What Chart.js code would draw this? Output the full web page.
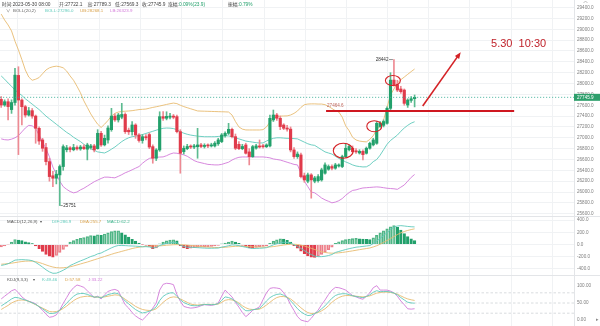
<!DOCTYPE html>
<html lang="zh-CN">
<head>
<meta charset="utf-8">
<title>BTC 1H</title>
<script src="https://cdn.jsdelivr.net/npm/chart.js@4.4.1/dist/chart.umd.min.js"></script>
<style>
  html, body { margin: 0; padding: 0; background: #fff; }
  #board { position: relative; width: 600px; height: 326px; overflow: hidden; }
  #board canvas { position: absolute; left: 0; }
</style>
</head>
<body>
<div id="board">
  <canvas id="mainChart" width="600" height="217" style="top:0"></canvas>
  <canvas id="macdChart" width="600" height="58" style="top:217px"></canvas>
  <canvas id="kdjChart" width="600" height="51" style="top:275px"></canvas>
</div>
<script>
// ===== K线数据 (1H) =====
const opens = [
  27708, 27604, 27665, 27520, 27650, 28150, 27696, 27573, 27420, 27500,
  27400, 27175, 26960, 26820, 26561, 26300, 26255, 26316, 26470, 26780,
  26815, 26780, 26820, 26795, 26830, 26790, 26820, 26850, 26800, 27083,
  26870, 26960, 27150, 27400, 27330, 27380, 27430, 27140, 27113, 27236,
  27052, 26950, 27020, 27060, 26837, 26623, 26776, 27390, 27360, 27380,
  27400, 27390, 27113, 26745, 26800, 26840, 26830, 26835, 26868, 26840,
  26860, 26850, 26850, 26890, 26930, 27040, 27083, 27156, 27021, 26880,
  26800, 26868, 26740, 26653, 26810, 26850, 26850, 26835, 26850, 27330,
  27420, 27360, 27236, 27180, 27160, 26776, 26653, 26684, 26300, 26200,
  26316, 26200, 26210, 26224, 26347, 26420, 26470, 26440, 26480, 26470,
  26653, 26780, 26807, 26760, 26720, 26750, 26715, 26807, 26870, 26899,
  27206, 27230, 27267, 27543, 28064, 27980, 27900, 27880, 27604, 27690,
  27722.1
];
const highs = [
  27760, 27700, 27720, 27700, 28279, 28310, 27720, 27600, 27560, 27540,
  27420, 27200, 26990, 26900, 26620, 26380, 26400, 26500, 26870, 26860,
  26840, 26880, 26850, 26860, 26870, 26900, 26880, 26880, 27150, 27120,
  27050, 27220, 27543, 27440, 27450, 27635, 27460, 27180, 27300, 27260,
  27080, 27060, 27060, 27090, 26870, 26800, 27480, 27481, 27480, 27450,
  27430, 27420, 27150, 26850, 26880, 26870, 26880, 27175, 26900, 26890,
  26890, 26900, 26930, 26990, 27080, 27110, 27267, 27180, 27070, 26930,
  26880, 26900, 26800, 26860, 26880, 26960, 26880, 26890, 27420, 27512,
  27450, 27400, 27260, 27230, 27200, 26820, 26740, 26720, 26350, 26350,
  26340, 26290, 26320, 26440, 26540, 26500, 26500, 26530, 26520, 26680,
  26899, 26870, 26850, 26800, 26780, 26780, 26830, 26920, 26990, 27300,
  27300, 27330, 27570, 28200, 28442, 28060, 27950, 27900, 27720, 27760,
  27789.3
];
const lows = [
  27560, 27580, 27330, 27450, 27600, 26690, 27236, 27380, 27400, 27360,
  26899, 26880, 26750, 26500, 26200, 26101, 26150, 25751, 26400, 26740,
  26740, 26760, 26770, 26770, 26780, 26592, 26790, 26740, 26790, 26840,
  26850, 26900, 27120, 27300, 27290, 27350, 27080, 27060, 27050, 26990,
  26920, 26900, 26960, 26800, 26531, 26580, 26750, 27320, 27330, 27350,
  27350, 27090, 26347, 26700, 26780, 26800, 26800, 26623, 26820, 26810,
  26820, 26830, 26830, 26860, 26910, 27010, 27060, 27000, 26780, 26780,
  26780, 26700, 26500, 26640, 26790, 26810, 26810, 26820, 26830, 27300,
  27320, 27150, 27150, 27120, 26740, 26620, 26620, 26260, 26180, 26170,
  25887, 26170, 26180, 26200, 26330, 26400, 26410, 26420, 26460, 26450,
  26640, 26760, 26720, 26710, 26700, 26590, 26700, 26790, 26850, 26880,
  27190, 27200, 27250, 27520, 27950, 27850, 27820, 27600, 27560, 27650,
  27569.3
];
const closes = [
  27604, 27665, 27575, 27650, 28155, 27696, 27573, 27420, 27500, 27400,
  27175, 26940, 26807, 26561, 26285, 26255, 26330, 26470, 26837, 26815,
  26785, 26820, 26795, 26830, 26800, 26868, 26850, 26776, 27083, 26868,
  26990, 27180, 27400, 27330, 27420, 27430, 27113, 27110, 27236, 27052,
  26950, 27020, 27000, 26830, 26623, 26776, 27390, 27360, 27395, 27400,
  27380, 27113, 26715, 26807, 26840, 26830, 26850, 26868, 26840, 26860,
  26850, 26860, 26900, 26960, 27052, 27083, 27156, 27021, 26807, 26800,
  26840, 26715, 26653, 26837, 26850, 26830, 26835, 26868, 27359, 27420,
  27360, 27206, 27175, 27160, 26776, 26653, 26700, 26285, 26224, 26316,
  26224, 26260, 26285, 26408, 26500, 26470, 26440, 26500, 26500, 26653,
  26807, 26840, 26745, 26740, 26750, 26690, 26807, 26899, 26960, 27267,
  27267, 27300, 27543, 28064, 27980, 27880, 27850, 27635, 27696, 27720,
  27745.9
];

// ===== BOLL(20,2) =====
const bollUp = [
  29280, 29170, 29080, 28970, 28780, 28620, 28440, 28250, 28120, 28060,
  28080, 28110, 28180, 28250, 28290, 28310, 28320, 28310, 28290, 28230,
  28140, 28060, 27950, 27830, 27680, 27560, 27440, 27340, 27250, 27190,
  27250, 27320, 27400, 27450, 27475, 27485, 27490, 27494, 27500, 27510,
  27520, 27525, 27530, 27545, 27560, 27572, 27586, 27600, 27615, 27628,
  27640, 27630, 27600, 27575, 27555, 27535, 27515, 27495, 27492, 27490,
  27488, 27486, 27484, 27482, 27480, 27478, 27475, 27420, 27300, 27200,
  27160, 27145, 27144, 27144, 27144, 27144, 27150, 27200, 27290, 27350,
  27390, 27400, 27402, 27404, 27420, 27450, 27494, 27560, 27610, 27622,
  27625, 27625, 27622, 27622, 27610, 27580, 27540, 27500, 27475, 27380,
  27220, 27130, 27010, 26960, 26940, 26930, 26925, 26970, 27040, 27140,
  27240, 27330, 27560, 27790, 27900, 28010, 28070, 28120, 28170, 28220,
  28268.1
];
const bollMid = [
  28140, 28080, 28010, 27950, 27880, 27830, 27780, 27720, 27670, 27620,
  27570, 27520, 27460, 27400, 27350, 27300, 27250, 27200, 27150, 27100,
  27060, 27010, 26970, 26930, 26880, 26830, 26800, 26770, 26740, 26730,
  26720, 26750, 26790, 26830, 26880, 26930, 26970, 27000, 27020, 27030,
  27040, 27060, 27080, 27100, 27120, 27140, 27160, 27175, 27180, 27178,
  27170, 27150, 27110, 27085, 27065, 27050, 27040, 27030, 27025, 27020,
  27020, 27020, 27020, 27025, 27030, 27035, 27035, 27020, 27000, 26980,
  26960, 26940, 26930, 26920, 26910, 26905, 26905, 26940, 26970, 26990,
  27000, 27000, 26995, 26990, 26990, 26985, 26980, 26950, 26920, 26890,
  26870, 26860, 26820, 26780, 26740, 26720, 26700, 26660, 26620, 26590,
  26555, 26530, 26500, 26480, 26470, 26463, 26465, 26500, 26560, 26600,
  26680, 26780, 26880, 26950, 27000, 27050, 27120, 27180, 27230, 27270,
  27296.0
];
const bollLow = [
  26980, 26965, 26960, 26975, 27000, 27040, 27110, 27180, 27230, 27220,
  27170, 27050, 26920, 26800, 26650, 26460, 26330, 26200, 26100, 26050,
  26010, 25985, 26000, 26040, 26070, 26110, 26150, 26190, 26220, 26250,
  26275, 26275, 26268, 26262, 26290, 26320, 26355, 26380, 26410, 26440,
  26470, 26530, 26580, 26620, 26635, 26640, 26645, 26648, 26670, 26700,
  26720, 26715, 26700, 26685, 26660, 26620, 26580, 26555, 26540, 26525,
  26510, 26505, 26500, 26500, 26510, 26530, 26550, 26590, 26620, 26640,
  26647, 26647, 26647, 26647, 26647, 26647, 26647, 26640, 26630, 26610,
  26600, 26590, 26570, 26550, 26530, 26510, 26500, 26350, 26200, 26100,
  26000, 25985, 25940, 25890, 25856, 25830, 25801, 25815, 25840, 25880,
  25940, 25990, 26030, 26040, 26060, 26075, 26080, 26085, 26090, 26095,
  26090, 26080, 26070, 26065, 26060, 26050, 26090, 26130, 26200, 26270,
  26323.9
];

// ===== MACD(12,26,9) =====
const macdDif = [
  -342, -330, -314, -285, -255, -250, -247, -250, -254, -264,
  -292, -329, -369, -413, -447, -470, -468, -447, -420, -389,
  -344, -318, -292, -268, -246, -222, -196, -180, -153, -139,
  -110, -83, -55, -31, -16, -17, -18, -22, -24, -27,
  -32, -38, -35, -40, -57, -49, -17, 2, 18, 28,
  35, 28, -12, -32, -45, -46, -48, -52, -55, -59,
  -61, -61, -60, -58, -43, -33, -20, -6, -10, -18,
  -33, -45, -58, -66, -64, -62, -58, -52, -30, -6,
  12, 29, 36, 34, 24, -6, -30, -65, -99, -134,
  -164, -188, -199, -198, -192, -180, -164, -130, -114, -98,
  -82, -68, -56, -44, -38, -31, -24, -17, 15, 55,
  100, 147, 193, 242, 285, 302, 308, 302, 295, 290,
  286.9
];
const macdDea = [
  -322, -318, -312, -305, -296, -286, -278, -272, -270, -272,
  -280, -294, -312, -333, -352, -368, -378, -382, -380, -374,
  -364, -350, -334, -318, -302, -286, -268, -250, -232, -214,
  -196, -178, -160, -142, -128, -112, -97, -82, -66, -54,
  -44, -36, -30, -25, -22, -22, -22, -18, -12, -8,
  -4, -2, -2, -5, -10, -16, -22, -28, -33, -38,
  -42, -45, -48, -50, -48, -45, -40, -34, -30, -28,
  -28, -30, -33, -37, -40, -42, -43, -43, -40, -34,
  -26, -17, -8, -1, 4, 4, 0, -10, -24, -42,
  -62, -82, -102, -118, -130, -138, -142, -140, -136, -130,
  -122, -113, -104, -94, -84, -75, -66, -57, -40, -20,
  5, 35, 65, 97, 130, 162, 190, 212, 230, 244,
  255.7
];
const macdHist = [
  -40, -25, -5, 40, 82, 72, 62, 45, 33, 15,
  -25, -70, -115, -160, -190, -205, -180, -130, -80, -30,
  40, 65, 85, 100, 112, 128, 145, 140, 158, 150,
  172, 190, 210, 222, 225, 190, 158, 120, 85, 55,
  25, -5, -10, -30, -70, -55, 10, 40, 60, 72,
  78, 60, -20, -55, -70, -60, -52, -48, -45, -42,
  -38, -32, -25, -15, 10, 25, 40, 55, 40, 20,
  -10, -30, -50, -58, -48, -40, -30, -18, 20, 55,
  75, 92, 88, 70, 40, -20, -60, -110, -150, -185,
  -205, -212, -195, -160, -125, -85, -45, 20, 45, 65,
  80, 90, 95, 100, 92, 88, 84, 80, 110, 150,
  190, 225, 255, 290, 310, 280, 235, 180, 130, 92,
  62.2
];

// ===== KDJ(9,3,3) =====
const kdjK = [
  41.3, 48, 54.7, 62, 66.7, 65.3, 62, 58.7, 55, 50.7,
  46, 39.3, 33, 25.7, 19.3, 19.3, 21.7, 28.7, 39, 49.3,
  60.3, 69.7, 76.3, 78, 78, 75.3, 71.3, 67.3, 68, 65.3,
  70, 74.7, 77.3, 79.3, 77.3, 67, 55.7, 47.7, 38.7, 30.7,
  25, 20.7, 22.7, 26, 31, 38.7, 57.3, 69.7, 76, 79.7,
  80, 69.7, 59.7, 51.3, 47, 43, 42, 42, 44, 45.7,
  45.3, 45, 45.7, 48, 58, 68, 66, 62, 54.7, 46,
  35.3, 27.3, 27.3, 30.3, 31.7, 34.3, 44.7, 56, 65.7, 71.7,
  75.3, 76.7, 72.7, 66.7, 56.3, 45.3, 33.3, 24, 17.7, 13,
  14.3, 19.3, 24.3, 33, 41.7, 53, 64, 72, 75.7, 77.3,
  77.3, 74.7, 71.3, 69.3, 67.3, 65.7, 69.3, 74, 81.7, 86.3,
  83.3, 84, 84, 82.3, 79.3, 74, 66, 59, 52.3, 50.3,
  49.46
];
const kdjD = [
  31, 37, 43, 50, 55, 58, 59, 58, 55, 50,
  45, 40, 35, 30, 25, 24, 25, 28, 34, 41,
  49, 57, 63, 67, 69, 70, 69, 68, 67, 67,
  68, 70, 72, 74, 73, 68, 61, 54, 47, 40,
  35, 31, 29, 28, 29, 33, 42, 52, 60, 66,
  68, 67, 62, 57, 52, 47, 45, 44, 45, 46,
  46, 46, 46, 47, 52, 58, 60, 59, 56, 50,
  42, 36, 32, 31, 31, 32, 37, 44, 52, 60,
  66, 69, 69, 67, 62, 54, 45, 36, 28, 22,
  19, 20, 22, 27, 33, 42, 52, 60, 66, 70,
  72, 72, 71, 70, 69, 68, 69, 71, 75, 79,
  81, 82, 82, 81, 79, 76, 71, 66, 62, 59.5,
  57.58
];
const kdjJ = [
  62, 70, 78, 86, 90, 80, 68, 60, 55, 52,
  48, 38, 29, 17, 8, 10, 15, 30, 49, 66,
  83, 95, 103, 100, 96, 86, 76, 66, 70, 62,
  74, 84, 88, 90, 86, 65, 45, 35, 22, 12,
  5, 0, 10, 22, 35, 50, 88, 105, 108, 107,
  104, 75, 55, 40, 37, 35, 36, 38, 42, 45,
  44, 43, 45, 50, 70, 88, 78, 68, 52, 38,
  22, 10, 18, 29, 33, 39, 60, 80, 93, 95,
  94, 92, 80, 66, 45, 28, 10, 0, -3, -5,
  5, 18, 29, 45, 59, 75, 88, 96, 95, 92,
  88, 80, 72, 68, 64, 61, 70, 80, 95, 101,
  88, 88, 88, 85, 80, 70, 56, 45, 33, 32,
  33.22
];

// 坐标刻度
const priceTicks = [25600, 25800, 26000, 26200, 26400, 26600, 26800, 27000, 27200, 27400,
  27600, 27800, 28000, 28200, 28400, 28600, 28800, 29000, 29200, 29400];
const macdTicks = [-400, -200, 0, 200, 400];
const kdjTicks = [0, 50, 100];
const kdjLevels = [20, 50, 80];

// 手绘标注 (K线序号, 价格)
const supportLine = { from: 94.3, to: 148.9, price: 27495, label: '27464.6' };
const circleMarks = [
  { at: 99.3, price: 26761, rx: 10, ry: 7.5 },
  { at: 108.3, price: 27214, rx: 7.5, ry: 5.5 },
  { at: 113.7, price: 28055, rx: 7.5, ry: 5 }
];
const arrowMark = { from: [122.35, 27586], to: [133.4, 28579] };
const noteMark = { at: 142.2, price: 28666, text: '5.30  10:30' };

// ===== 样式 =====
const FONT = "'Liberation Sans', 'Noto Sans CJK SC', sans-serif";
const UP = '#22a06b', DOWN = '#e03b4b';
const UP_WICK = '#5cbb90', DOWN_WICK = '#ee8a93';
const TEAL = '#5fcabb', ORANGE = '#e8bb70', PURPLE = '#d27ad9';
const GRID = '#f0f2f4', SEP = '#e3e5e8', MARK = '#d42226';
const X_MIN = -0.35, X_MAX = 166.27;
const GRID_START = 4.6, GRID_STEP = 11.95;
const AXIS_W = 26;

const gridSlots = [];
for (let g = GRID_START; g < X_MAX; g += GRID_STEP) gridSlots.push(g);

const idx = closes.map((_, i) => i);
const pts = arr => arr.map((v, i) => ({ x: i, y: v }));
const rising = idx.map(i => closes[i] >= opens[i]);
const last = closes.length - 1;

function putText(ctx, s, x, y, color, size, align, base) {
  ctx.fillStyle = color;
  ctx.font = `${size}px ${FONT}`;
  ctx.textAlign = align || 'left';
  ctx.textBaseline = base || 'middle';
  ctx.fillText(s, x, y);
  return ctx.measureText(s).width;
}
function hline(ctx, x0, x1, y) {
  ctx.beginPath(); ctx.moveTo(x0, y); ctx.lineTo(x1, y); ctx.stroke();
}

function xAxis() {
  return {
    type: 'linear', min: X_MIN, max: X_MAX, offset: false,
    grid: { color: GRID, drawTicks: false, offset: false },
    border: { display: false },
    ticks: { display: false },
    afterBuildTicks: s => { s.ticks = gridSlots.map(v => ({ value: v })); },
    afterFit: s => { s.height = 0; s.paddingLeft = 0; s.paddingRight = 0; }
  };
}
function yAxis(min, max, ticks, digits, showGrid) {
  return {
    type: 'linear', position: 'right', min, max,
    grid: { display: showGrid, color: GRID, drawTicks: false },
    border: { display: true, color: SEP },
    ticks: {
      color: '#7d7d7d', padding: 3,
      font: { size: 4.6, family: FONT },
      callback: v => Number(v).toFixed(digits)
    },
    afterBuildTicks: s => { s.ticks = ticks.map(v => ({ value: v })); },
    afterFit: s => { s.width = AXIS_W; s.paddingTop = 0; s.paddingBottom = 0; }
  };
}
const baseOptions = {
  responsive: false,
  animation: false,
  devicePixelRatio: 1,
  events: [],
  layout: { padding: 0 },
  plugins: { legend: { display: false }, tooltip: { enabled: false } }
};
const lineSet = (data, color, order) => ({
  type: 'line', data: pts(data), borderColor: color, borderWidth: 0.9,
  pointRadius: 0, tension: 0, fill: false, order
});

// 主图标注
const mainDecor = {
  id: 'mainDecor',
  afterDatasetsDraw(chart) {
    const { ctx, chartArea: area, scales: { x, y } } = chart;
    ctx.save();

    // 最新价虚线
    const lastY = y.getPixelForValue(closes[last]);
    ctx.strokeStyle = '#3aae96'; ctx.lineWidth = 0.8; ctx.setLineDash([1.2, 1.8]);
    hline(ctx, area.left, area.right, lastY);
    ctx.setLineDash([]);

    // 最高 / 最低
    const hi = highs.indexOf(Math.max(...highs));
    const lo = lows.indexOf(Math.min(...lows));
    ctx.strokeStyle = '#444'; ctx.lineWidth = 0.6;
    const hx = x.getPixelForValue(hi), hy = y.getPixelForValue(highs[hi]);
    hline(ctx, hx - 5, hx - 1, hy);
    putText(ctx, String(Math.round(highs[hi])), hx - 5.5, hy, '#333', 4.6, 'right');
    const lx = x.getPixelForValue(lo), ly = y.getPixelForValue(lows[lo]);
    hline(ctx, lx + 0.8, lx + 3, ly);
    putText(ctx, String(Math.round(lows[lo])), lx + 3.5, ly, '#333', 4.6);

    // 支撑线
    const sy = y.getPixelForValue(supportLine.price);
    const sx0 = x.getPixelForValue(supportLine.from), sx1 = x.getPixelForValue(supportLine.to);
    ctx.strokeStyle = '#cf1720'; ctx.lineWidth = 2;
    hline(ctx, sx0, sx1, sy);
    putText(ctx, supportLine.label, sx0 + 1, sy - 5.5, '#c0675c', 4.6);

    // 圈
    ctx.strokeStyle = MARK; ctx.lineWidth = 1.1;
    circleMarks.forEach(c => {
      ctx.beginPath();
      ctx.ellipse(x.getPixelForValue(c.at), y.getPixelForValue(c.price), c.rx, c.ry, 0, 0, Math.PI * 2);
      ctx.stroke();
    });

    // 箭头
    const ax0 = x.getPixelForValue(arrowMark.from[0]), ay0 = y.getPixelForValue(arrowMark.from[1]);
    const ax1 = x.getPixelForValue(arrowMark.to[0]), ay1 = y.getPixelForValue(arrowMark.to[1]);
    const ang = Math.atan2(ay1 - ay0, ax1 - ax0);
    ctx.lineWidth = 1.6;
    ctx.beginPath(); ctx.moveTo(ax0, ay0);
    ctx.lineTo(ax1 - 4 * Math.cos(ang), ay1 - 4 * Math.sin(ang)); ctx.stroke();
    ctx.fillStyle = MARK;
    ctx.beginPath();
    ctx.moveTo(ax1, ay1);
    ctx.lineTo(ax1 - 6.5 * Math.cos(ang) + 2.6 * Math.sin(ang), ay1 - 6.5 * Math.sin(ang) - 2.6 * Math.cos(ang));
    ctx.lineTo(ax1 - 6.5 * Math.cos(ang) - 2.6 * Math.sin(ang), ay1 - 6.5 * Math.sin(ang) + 2.6 * Math.cos(ang));
    ctx.closePath(); ctx.fill();

    // 时间备注
    ctx.font = "11px 'Liberation Sans', Arial, sans-serif";
    ctx.fillStyle = '#c0222a'; ctx.textAlign = 'left'; ctx.textBaseline = 'alphabetic';
    ctx.fillText(noteMark.text, x.getPixelForValue(noteMark.at), y.getPixelForValue(noteMark.price));

    // 最新价标签
    ctx.fillStyle = '#2e9f6c';
    ctx.fillRect(area.right, lastY - 3.5, chart.width - area.right, 7);
    putText(ctx, closes[last].toFixed(1), area.right + 3, lastY + 0.2, '#fff', 4.6);

    // 顶部信息
    const top = [
      ['时间:', '2023-05-30 08:00', 1.7, '#444'],
      ['开:', opens[last].toFixed(1), 59, '#444'],
      ['高:', highs[last].toFixed(1), 87.5, '#444'],
      ['低:', lows[last].toFixed(1), 115, '#444'],
      ['收:', closes[last].toFixed(1), 142, '#444'],
      ['涨幅:', '0.09%(23.9)', 168, UP],
      ['振幅:', '0.79%', 228, UP]
    ];
    top.forEach(([k, v, px, c]) => {
      const w = putText(ctx, k, px, 4.4, '#444', 4.8);
      putText(ctx, v, px + w, 4.4, c, 4.8);
    });
    putText(ctx, '∨', 6, 11, '#777', 4.4);
    putText(ctx, 'BOLL(20,2)', 13, 11, '#666', 4.4);
    putText(ctx, 'BOLL:' + bollMid[last].toFixed(1), 45, 11, TEAL, 4.4);
    putText(ctx, 'UB:' + bollUp[last].toFixed(1), 80, 11, '#d9a24c', 4.4);
    putText(ctx, 'LB:' + bollLow[last].toFixed(1), 110, 11, PURPLE, 4.4);

    // 右上折叠符
    ctx.strokeStyle = '#999'; ctx.lineWidth = 0.6;
    ctx.beginPath(); ctx.moveTo(583.5, 3); ctx.lineTo(585.5, 1); ctx.lineTo(587.5, 3); ctx.stroke();

    ctx.strokeStyle = SEP; ctx.lineWidth = 1;
    hline(ctx, 0, chart.width, area.bottom - 0.5);
    ctx.restore();
  }
};

// 主图
new Chart(document.getElementById('mainChart'), {
  type: 'bar',
  data: {
    datasets: [
      {
        label: '实体', order: 0, grouped: false, barThickness: 2.5, minBarLength: 1,
        data: idx.map(i => ({ x: i, y: [opens[i], closes[i]] })),
        backgroundColor: rising.map(u => u ? UP : DOWN)
      },
      {
        label: '影线', order: 1, grouped: false, barThickness: 1,
        data: idx.map(i => ({ x: i, y: [lows[i], highs[i]] })),
        backgroundColor: rising.map(u => u ? UP_WICK : DOWN_WICK)
      },
      lineSet(bollUp, ORANGE, 2),
      lineSet(bollMid, TEAL, 2),
      lineSet(bollLow, PURPLE, 2)
    ]
  },
  options: { ...baseOptions, scales: { x: xAxis(), y: yAxis(25540, 29540, priceTicks, 1, true) } },
  plugins: [mainDecor]
});

// MACD
const histFalling = macdHist.map((v, i) => i > 0 && v < macdHist[i - 1]);
const macdDecor = {
  id: 'macdDecor',
  afterDatasetsDraw(chart) {
    const { ctx } = chart;
    ctx.save();
    putText(ctx, 'MACD(12,26,9)', 7, 4.4, '#555', 4.4);
    putText(ctx, '▾', 40, 4.4, '#555', 4.4);
    putText(ctx, 'DIF:' + macdDif[last].toFixed(1), 52, 4.4, TEAL, 4.4);
    putText(ctx, 'DEA:' + macdDea[last].toFixed(1), 80, 4.4, '#d9a24c', 4.4);
    putText(ctx, 'MACD:' + macdHist[last].toFixed(1), 107, 4.4, '#3bb38a', 4.4);
    ctx.restore();
  }
};
new Chart(document.getElementById('macdChart'), {
  type: 'bar',
  data: {
    datasets: [
      {
        label: 'MACD', order: 1, grouped: false, barThickness: 2.6, borderWidth: 0.8,
        data: pts(macdHist),
        backgroundColor: macdHist.map((v, i) => histFalling[i] ? (v >= 0 ? UP : DOWN) : 'rgba(255,255,255,0)'),
        borderColor: macdHist.map((v, i) => v >= 0 ? (histFalling[i] ? UP : '#4fb585') : (histFalling[i] ? DOWN : '#ec7c86'))
      },
      lineSet(macdDif, TEAL, 0),
      lineSet(macdDea, ORANGE, 0)
    ]
  },
  options: { ...baseOptions, scales: { x: xAxis(), y: yAxis(-498, 449, macdTicks, 1, true) } },
  plugins: [macdDecor]
});

// KDJ
const kdjDecor = {
  id: 'kdjDecor',
  beforeDatasetsDraw(chart) {
    const { ctx, chartArea: area, scales: { y } } = chart;
    ctx.save();
    ctx.strokeStyle = '#cfd3d7'; ctx.lineWidth = 0.8; ctx.setLineDash([2.5, 2]);
    kdjLevels.forEach(v => hline(ctx, area.left, area.right, y.getPixelForValue(v)));
    ctx.restore();
  },
  afterDatasetsDraw(chart) {
    const { ctx } = chart;
    ctx.save();
    ctx.strokeStyle = SEP; ctx.lineWidth = 1;
    hline(ctx, 0, chart.width, 0.5);
    putText(ctx, 'KDJ(9,3,3)', 7, 4.4, '#555', 4.4);
    putText(ctx, '▾', 33, 4.4, '#555', 4.4);
    putText(ctx, 'K:' + kdjK[last].toFixed(2), 42, 4.4, TEAL, 4.4);
    putText(ctx, 'D:' + kdjD[last].toFixed(2), 65, 4.4, '#d9a24c', 4.4);
    putText(ctx, 'J:' + kdjJ[last].toFixed(2), 88, 4.4, PURPLE, 4.4);
    putText(ctx, '▸', 596, 45, '#888', 4.6);
    ctx.restore();
  }
};
new Chart(document.getElementById('kdjChart'), {
  type: 'line',
  data: {
    datasets: [
      lineSet(kdjK, TEAL, 0),
      lineSet(kdjD, ORANGE, 0),
      lineSet(kdjJ, PURPLE, 0)
    ]
  },
  options: { ...baseOptions, scales: { x: xAxis(), y: yAxis(-17.6, 132.4, kdjTicks, 2, false) } },
  plugins: [kdjDecor]
});
</script>
</body>
</html>
